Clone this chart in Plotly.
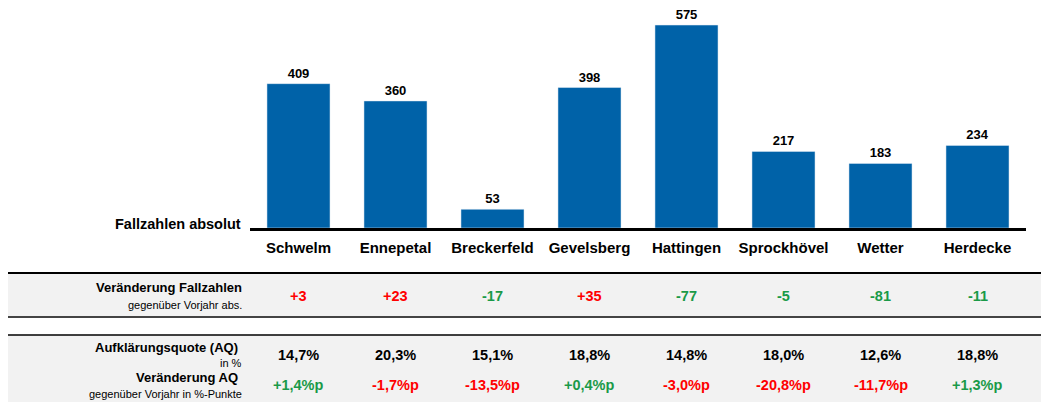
import plotly.graph_objects as go

# data
orte = ["Schwelm", "Ennepetal", "Breckerfeld", "Gevelsberg", "Hattingen",
        "Sprockhövel", "Wetter", "Herdecke"]
fallzahlen = [409, 360, 53, 398, 575, 217, 183, 234]
veraend_fall = ["+3", "+23", "-17", "+35", "-77", "-5", "-81", "-11"]
aq = ["14,7%", "20,3%", "15,1%", "18,8%", "14,8%", "18,0%", "12,6%", "18,8%"]
veraend_aq = ["+1,4%p", "-1,7%p", "-13,5%p", "+0,4%p", "-3,0%p", "-20,8%p",
              "-11,7%p", "+1,3%p"]

W, H = 1041, 402
BLUE = "#0062A8"
RED = "#FF0000"
GREEN = "#1A9A48"
GRAY = "#F2F2F2"
FONT = "Liberation Sans, Arial, sans-serif"


def px_x(x):
    return x / W


def px_y(y):
    return 1 - y / H


def delta_color(s):
    # more cases = red, fewer = green; for AQ it is the other way round
    return RED if s.startswith("+") else GREEN


def aq_color(s):
    return GREEN if s.startswith("+") else RED


fig = go.Figure(go.Bar(
    x=orte, y=fallzahlen,
    marker_color=BLUE, width=0.65,
    text=fallzahlen, textposition="outside",
    textfont=dict(family=FONT, size=13, color="#000000", weight="bold"),
    cliponaxis=False,
    hoverinfo="skip",
))

shapes = [
    # gray bands of the table
    dict(type="rect", xref="paper", yref="paper", x0=px_x(8), x1=1,
         y0=px_y(317), y1=px_y(273), fillcolor=GRAY, line_width=0, layer="below"),
    dict(type="rect", xref="paper", yref="paper", x0=px_x(8), x1=1,
         y0=0, y1=px_y(335), fillcolor=GRAY, line_width=0, layer="below"),
    dict(type="line", xref="paper", yref="paper", x0=px_x(8), x1=1,
         y0=px_y(273), y1=px_y(273), line=dict(color="#000000", width=2)),
    dict(type="line", xref="paper", yref="paper", x0=px_x(8), x1=1,
         y0=px_y(317), y1=px_y(317), line=dict(color="#444444", width=2)),
    dict(type="line", xref="paper", yref="paper", x0=px_x(8), x1=1,
         y0=px_y(335), y1=px_y(335), line=dict(color="#000000", width=1.5)),
]

ann = [
    dict(text="<b>Fallzahlen absolut</b>", x=px_x(243), y=px_y(224),
         xanchor="right", yanchor="middle", font=dict(size=14.5)),
    dict(text="<b>Veränderung Fallzahlen</b>", x=px_x(244), y=px_y(287),
         xanchor="right", yanchor="middle", font=dict(size=13)),
    dict(text="gegenüber Vorjahr abs.", x=px_x(244), y=px_y(305),
         xanchor="right", yanchor="middle", font=dict(size=11)),
    dict(text="<b>Aufklärungsquote (AQ)</b>", x=px_x(240), y=px_y(347),
         xanchor="right", yanchor="middle", font=dict(size=13)),
    dict(text="in %", x=px_x(244), y=px_y(363),
         xanchor="right", yanchor="middle", font=dict(size=11)),
    dict(text="<b>Veränderung AQ</b>", x=px_x(240), y=px_y(377),
         xanchor="right", yanchor="middle", font=dict(size=13)),
    dict(text="gegenüber Vorjahr in %-Punkte", x=px_x(244), y=px_y(394),
         xanchor="right", yanchor="middle", font=dict(size=11)),
]
for a in ann:
    a.update(xref="paper", yref="paper", showarrow=False)
    a["font"].update(family=FONT, color="#000000")

for i, ort in enumerate(orte):
    rows = [
        (veraend_fall[i], 296, delta_color(veraend_fall[i])),
        (aq[i], 355, "#000000"),
        (veraend_aq[i], 385, aq_color(veraend_aq[i])),
    ]
    for txt, y, col in rows:
        ann.append(dict(
            text=f"<b>{txt}</b>", x=ort, xref="x", y=px_y(y), yref="paper",
            showarrow=False, xanchor="center", yanchor="middle",
            font=dict(family=FONT, size=14.5, color=col),
        ))

fig.update_layout(
    width=W, height=H,
    margin=dict(l=0, r=0, t=0, b=0),
    paper_bgcolor="#FFFFFF", plot_bgcolor="#FFFFFF",
    showlegend=False,
    bargap=0.35,
    font=dict(family=FONT, color="#000000"),
    xaxis=dict(
        domain=[px_x(250), px_x(1026)], range=[-0.5, 7.5],
        showline=True, linecolor="#000000", linewidth=2.5,
        showgrid=False, zeroline=False, ticks="",
        tickfont=dict(family=FONT, size=15, color="#000000", weight="bold"),
        ticklabelstandoff=4,
    ),
    yaxis=dict(
        domain=[px_y(228), 1], range=[0, 646],
        visible=False, showgrid=False, zeroline=False,
    ),
    shapes=shapes,
    annotations=ann,
)

# body margin would push the figure 8px off the window
fig.write_html("out.html", config={"displayModeBar": False},
               post_script="document.body.style.margin='0';")
